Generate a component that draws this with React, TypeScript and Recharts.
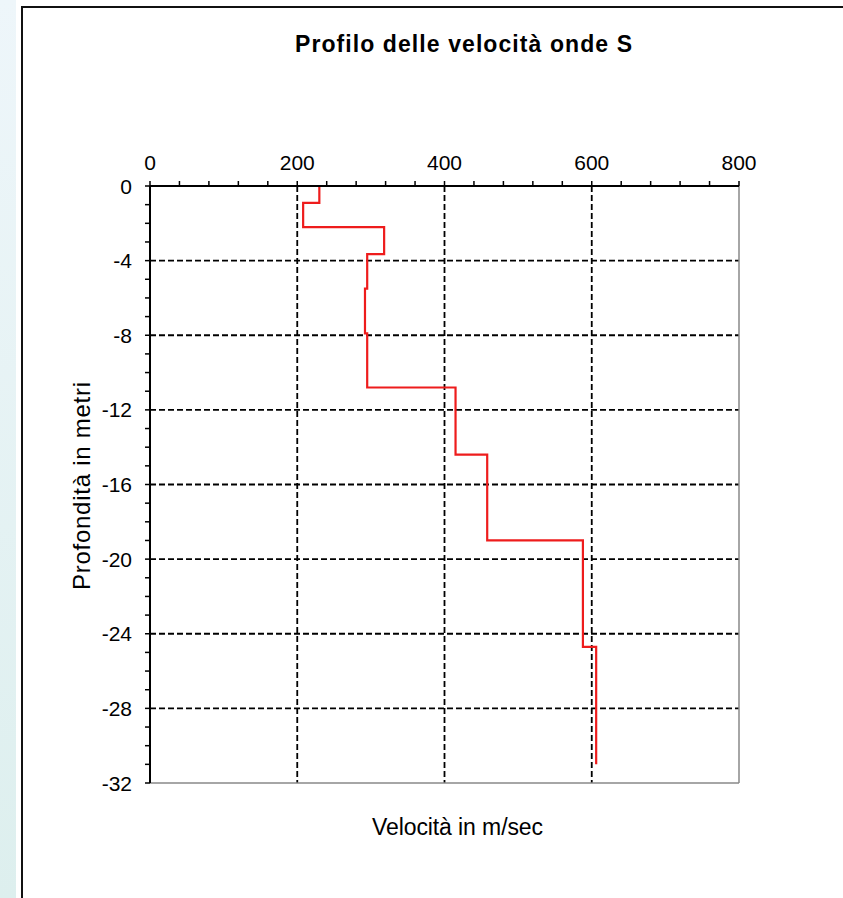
import React from 'react';
import { LineChart, Line, XAxis, YAxis, ReferenceLine } from 'recharts';

// Shear-wave velocity per layer (m/s) and layer top depths (m, negative downwards)
const velocities = [230, 208, 318, 295, 292, 295, 415, 458, 588, 606];
const layerTops = [0, -0.9, -2.2, -3.65, -5.5, -7.9, -10.8, -14.4, -19.0, -24.7];
const bottomDepth = -31.0;

const xTicks = [0, 40, 80, 120, 160, 200, 240, 280, 320, 360, 400, 440, 480, 520, 560, 600, 640, 680, 720, 760, 800];
const xLabelTicks = [0, 200, 400, 600, 800];
const yTicks = Array.from({ length: 33 }, (_, i) => -32 + i);
const yLabelTicks = [0, -4, -8, -12, -16, -20, -24, -28, -32];
const xGrid = [200, 400, 600];
const yGrid = [-4, -8, -12, -16, -20, -24, -28];

const titleText = 'Profilo delle velocità onde S';
const xTitle = 'Velocità in m/sec';
const yTitle = 'Profondità in metri';

const profile: { v: number; d: number }[] = [];
velocities.forEach((v, i) => {
  const top = layerTops[i];
  const bottom = i + 1 < layerTops.length ? layerTops[i + 1] : bottomDepth;
  profile.push({ v, d: top });
  profile.push({ v, d: bottom });
});

const FONT = 'Arial, "Liberation Sans", sans-serif';

const XTick = (props: any) => {
  const { x, y, payload } = props;
  if (!xLabelTicks.includes(payload.value)) return <g />;
  return (
    <text x={x} y={y} textAnchor="middle" fontFamily={FONT} fontSize={21} fill="#000">
      {payload.value}
    </text>
  );
};

const YTick = (props: any) => {
  const { x, y, payload } = props;
  if (!yLabelTicks.includes(payload.value)) return <g />;
  return (
    <text x={x} y={y} dy={7.5} textAnchor="end" fontFamily={FONT} fontSize={21} fill="#000">
      {payload.value}
    </text>
  );
};

export default function App() {
  return (
    <div style={{ position: 'absolute', left: 0, top: 0, width: 843, height: 898, background: '#fff', overflow: 'hidden' }}>
      <div style={{ position: 'absolute', left: 0, top: 0, width: 16, height: 898, background: 'linear-gradient(to bottom, #eef6fa, #ddefee)' }} />
      <div style={{ position: 'absolute', left: 21, top: 6, width: 900, height: 900, borderTop: '2px solid #111', borderLeft: '2px solid #111', boxSizing: 'border-box' }} />
      <div style={{ position: 'absolute', left: 0, top: 0 }}>
        <LineChart width={843} height={898} data={profile} margin={{ top: 146, left: 90, right: 104, bottom: 115 }}>
          <XAxis
            type="number"
            dataKey="v"
            orientation="top"
            domain={[0, 800]}
            ticks={xTicks}
            interval={0}
            height={40}
            tickSize={5}
            tickMargin={11}
            tick={<XTick />}
            axisLine={{ stroke: '#000', strokeWidth: 2 }}
            tickLine={{ stroke: '#000', strokeWidth: 1.5 }}
            allowDataOverflow
          />
          <YAxis
            type="number"
            domain={[-32, 0]}
            ticks={yTicks}
            interval={0}
            width={60}
            tickSize={5}
            tickMargin={13}
            tick={<YTick />}
            axisLine={{ stroke: '#000', strokeWidth: 2 }}
            tickLine={{ stroke: '#000', strokeWidth: 1.5 }}
            allowDataOverflow
          />
          {xGrid.map((g) => (
            <ReferenceLine key={'x' + g} x={g} stroke="#000" strokeWidth={1.8} strokeDasharray="6 3" />
          ))}
          {yGrid.map((g) => (
            <ReferenceLine key={'y' + g} y={g} stroke="#000" strokeWidth={1.8} strokeDasharray="6 3" />
          ))}
          <ReferenceLine x={800} stroke="#888" strokeWidth={1.5} />
          <ReferenceLine y={-32} stroke="#888" strokeWidth={1.5} />
          <Line
            type="linear"
            dataKey="d"
            stroke="#ee1c1c"
            strokeWidth={2.2}
            dot={false}
            activeDot={false}
            isAnimationActive={false}
          />
        </LineChart>
      </div>
      <svg width={843} height={898} style={{ position: 'absolute', left: 0, top: 0, pointerEvents: 'none' }}>
        <text x={463.5} y={52} textAnchor="middle" fontFamily={FONT} fontSize={23} fontWeight="bold" fill="#000" textLength={337} lengthAdjust="spacing">
          {titleText}
        </text>
        <text x={457.5} y={835} textAnchor="middle" fontFamily={FONT} fontSize={23} fill="#000" textLength={171} lengthAdjust="spacing">
          {xTitle}
        </text>
        <text x={90} y={486} textAnchor="middle" transform="rotate(-90 90 486)" fontFamily={FONT} fontSize={24} fill="#000" textLength={208} lengthAdjust="spacing">
          {yTitle}
        </text>
      </svg>
    </div>
  );
}
